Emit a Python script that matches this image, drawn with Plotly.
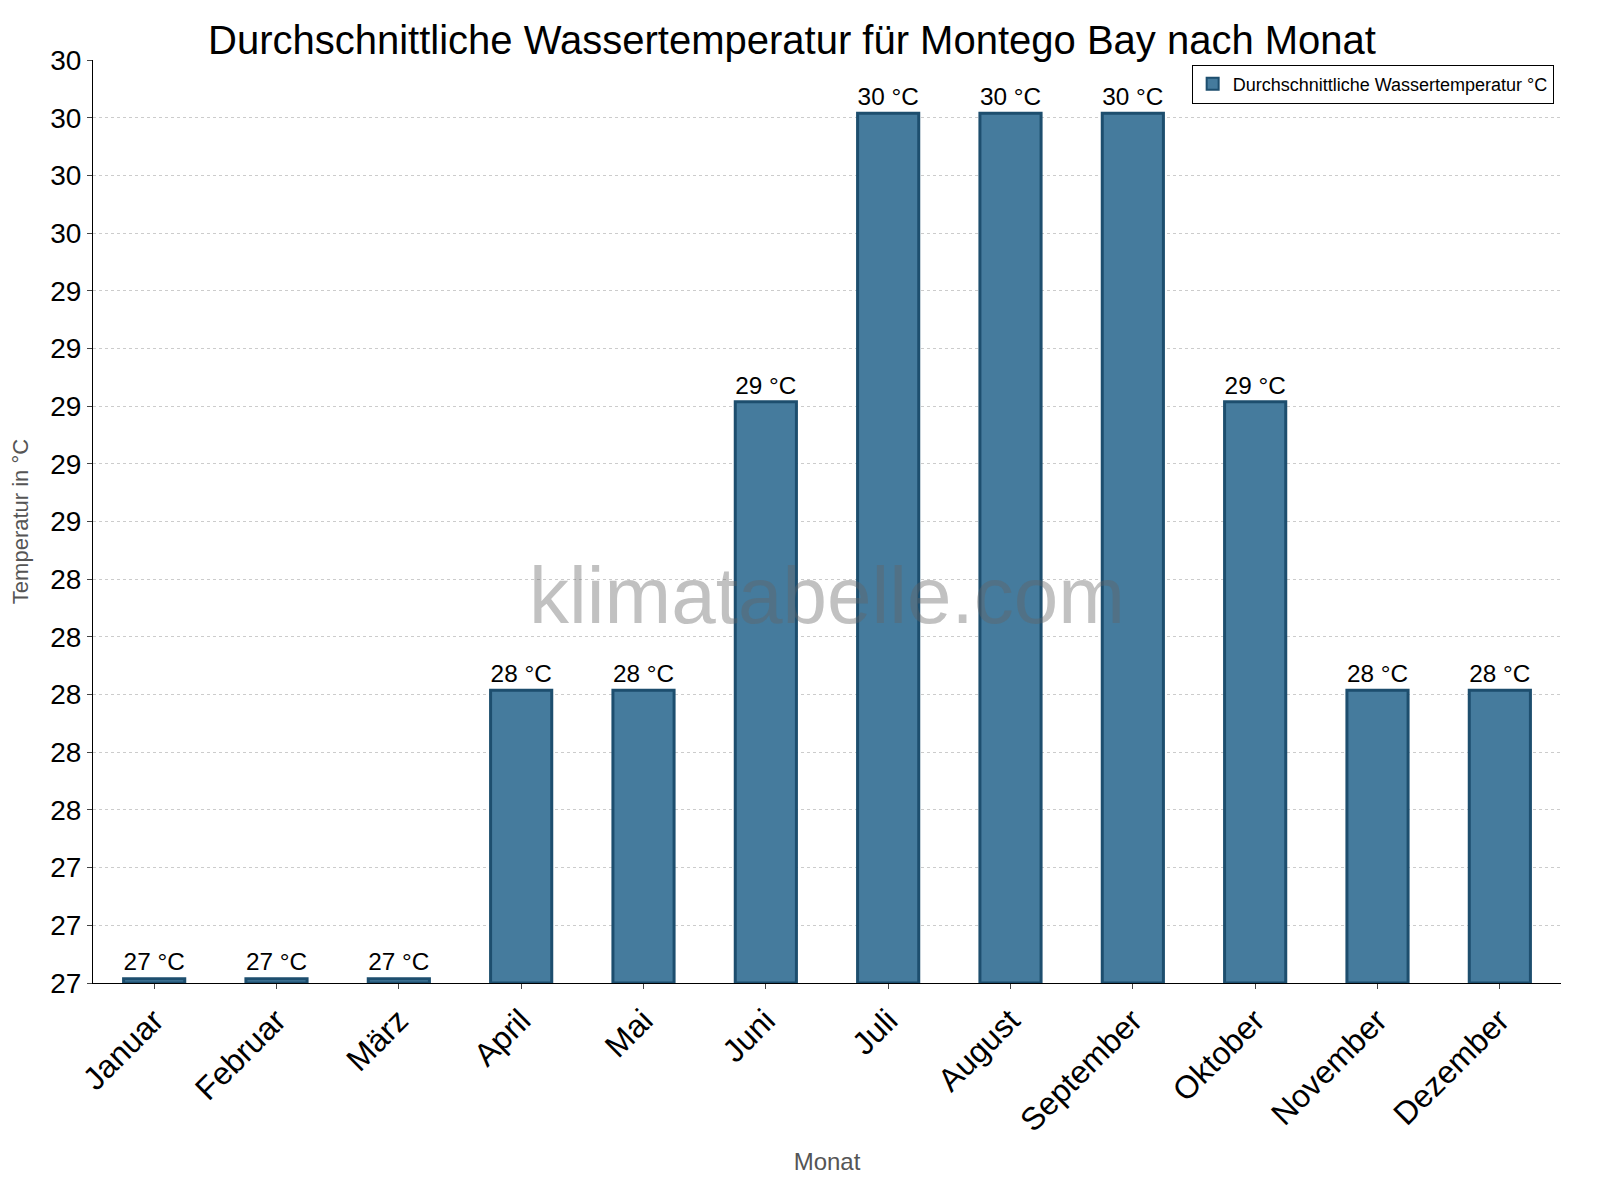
import plotly.graph_objects as go

months = ["Januar","Februar","März","April","Mai","Juni","Juli","August","September","Oktober","November","Dezember"]
temps = [27.0,27.0,27.0,28.0,28.0,29.0,30.0,30.0,30.0,29.0,28.0,28.0]
labels = [f"{round(t):.0f} °C" for t in temps]

fig = go.Figure()
fig.add_trace(go.Bar(x=months, y=[t-27.0+0.015 for t in temps], base=27.0, width=0.5,
    marker=dict(color="#457b9d", line=dict(color="#1d4e6e", width=3)),
    text=labels, textposition="outside", textfont=dict(size=28, color="black"),
    cliponaxis=False, name="Durchschnittliche Wassertemperatur °C", showlegend=True))
fig.update_layout(
    width=1600, height=1200, plot_bgcolor="white", paper_bgcolor="white",
    font=dict(family="Liberation Sans, Arial", color="black"),
    title=dict(text="Durchschnittliche Wassertemperatur für Montego Bay nach Monat", x=0.49, y=0.985, xanchor="center", font=dict(size=40)),
    margin=dict(l=83, r=47, t=52, b=225),
    showlegend=True,
    legend=dict(x=0.995, y=0.995, xanchor="right", yanchor="top", bordercolor="black", borderwidth=1, font=dict(size=18), itemsizing="constant"),
    bargap=0.5,
)
fig.update_yaxes(range=[27.0,30.2], tickvals=[27+0.2*i for i in range(17)], tickformat=".0f",
    tickfont=dict(size=28), showgrid=True, gridcolor="#cccccc", griddash="dot", showline=True, linecolor="black",
    ticks="outside", title=dict(text="Temperatur in °C", font=dict(size=22, color="#555")))
fig.update_xaxes(tickangle=-45, tickfont=dict(size=32), showline=True, linecolor="black", ticks="outside",
    title=dict(text="Monat", font=dict(size=24, color="#555")))
fig.add_annotation(text="klimatabelle.com", x=0.5, y=0.42, xref="paper", yref="paper", showarrow=False,
    font=dict(size=80, color="rgba(100,100,100,0.4)", family="Liberation Sans, Arial"), textangle=0)
fig.write_html("out.html")
